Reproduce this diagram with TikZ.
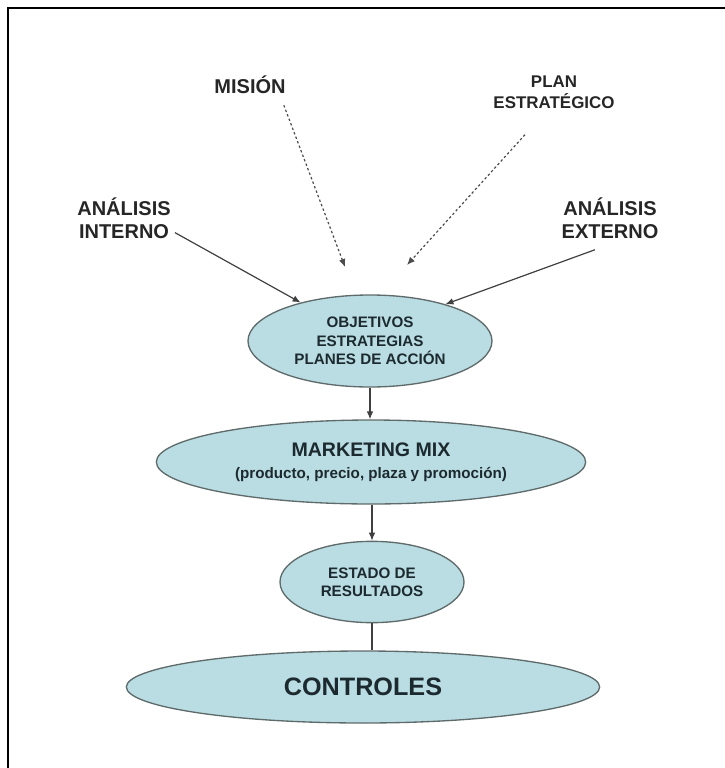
\documentclass[tikz,border=0pt]{standalone}
\usepackage{fontspec}
\setmainfont{Liberation Sans}
\usepackage{tikz}
\usetikzlibrary{shapes.geometric,arrows.meta,calc}
\definecolor{elfill}{HTML}{B9DDE2}
\definecolor{eldraw}{HTML}{5F6B6B}
\definecolor{eltext}{HTML}{1C2A30}

\begin{document}
\begin{tikzpicture}[x=0.75pt,y=-0.75pt,
    label/.style={align=center,text=black!85,inner sep=3pt,font=\bfseries\fontsize{15}{17.25}\selectfont},
    bubble/.style={ellipse,draw=eldraw,line width=1pt,fill=elfill,text=eltext,align=center,inner sep=0pt},
    solid arrow/.style={draw=black!75,line width=0.9pt,-{Latex[length=6pt,width=5pt]}},
    dotted arrow/.style={draw=black!70,line width=0.9pt,dash pattern=on 1.8pt off 1.8pt,-{Latex[length=6pt,width=5pt]}}]

    \useasboundingbox (0,0) rectangle (725,768);

    % Frame of the page (only the left and top sides are visible)
    \draw[line width=1.5pt] (8,768) -- (8,8) -- (725,8);

    % Inputs
    \node[label] (mision) at (250,85) {MISIÓN};
    \node[label,font=\bfseries\fontsize{12.7}{15.75}\selectfont] (plan) at (554,92) {PLAN\\ESTRATÉGICO};
    \node[label] (interno) at (124,218) {ANÁLISIS\\INTERNO};
    \node[label] (externo) at (610,218) {ANÁLISIS\\EXTERNO};

    % Ellipses (sizes in pt: 1px = 0.75pt)
    \node[bubble,minimum width=183pt,minimum height=69pt,font=\bfseries\fontsize{11.4}{13.9}\selectfont] (obj) at (370,341)
        {OBJETIVOS\\ESTRATEGIAS\\PLANES DE ACCIÓN};
    \node[bubble,minimum width=322pt,minimum height=63pt,font=\bfseries\fontsize{11.4}{16.5}\selectfont] (mkt) at (371,462)
        {{\fontsize{14.7}{16.5}\selectfont MARKETING MIX}\\(producto, precio, plaza y promoción)};
    \node[bubble,minimum width=138pt,minimum height=61pt,font=\bfseries\fontsize{11.4}{13.5}\selectfont] (estado) at (372,582)
        {ESTADO DE\\RESULTADOS};
    \node[bubble,minimum width=355pt,minimum height=54pt,font=\bfseries\fontsize{18.9}{22}\selectfont] (control) at (363,687)
        {CONTROLES};

    % Free ends of the dotted arrows
    \coordinate (misiontip) at (345,267);
    \coordinate (plantip) at (407,265);

    \draw[dotted arrow] ($(mision.south east)+(-6,7)$) -- (misiontip);
    \draw[dotted arrow] ($(plan.south)+(-29,22)$) -- (plantip);

    \draw[solid arrow] (interno.-16) -- (obj.151);
    \draw[solid arrow] ($(externo.south)+(-15,7)$) -- (obj.26);

    \draw[solid arrow] (obj.south) -- (obj.south |- mkt.north);
    \draw[solid arrow] (mkt.south -| estado.north) -- (estado.north);
    \draw[draw=black!75,line width=0.9pt] (estado.south) -- (estado.south |- control.north);

\end{tikzpicture}
\end{document}
